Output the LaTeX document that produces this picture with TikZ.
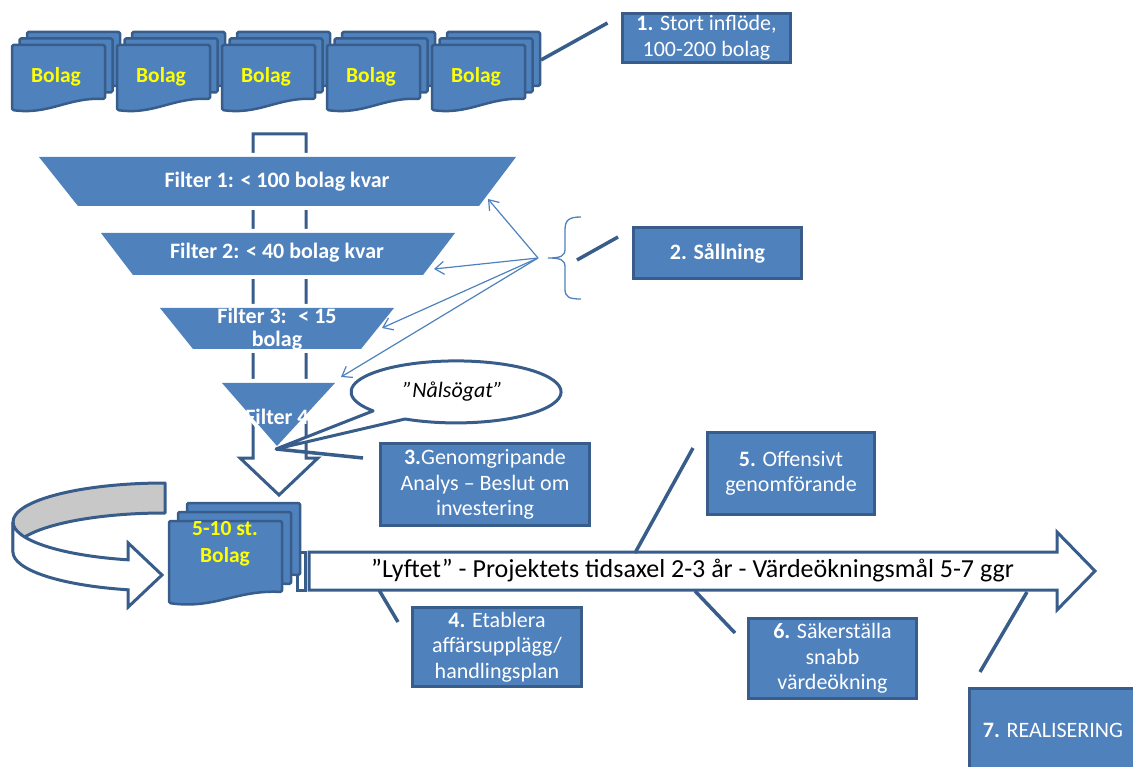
\documentclass[tikz,border=0pt]{standalone}
\usepackage{fontspec}
\setmainfont{Carlito}
\usetikzlibrary{arrows.meta}
\definecolor{bfill}{HTML}{4F81BD}
\definecolor{bdark}{HTML}{385D8A}
\definecolor{ylw}{HTML}{FFFF00}
\definecolor{gband}{HTML}{C8C8C8}
\definecolor{lblue}{HTML}{4F81BD}
\newcommand\mydoc[5]{%
  \draw[docst] ({#1},{#2}) -- ({#1+#3},{#2}) -- ({#1+#3},{#2+#5})
    .. controls ({#1+0.6*#3},{#2+#5-0.03*#4}) and ({#1+0.4*#3},{#2+1.08*#4}) .. ({#1},{#2+#4}) -- cycle;}
\tikzset{
  docst/.style={draw=bdark, fill=bfill, line width=2.5pt, rounded corners=1.5pt, line join=round},
  box/.style={draw=bdark, fill=bfill, line width=3pt, text=white, align=center, inner sep=0pt,
    font=\fontsize{22}{25.5}\selectfont},
  bolagtxt/.style={text=ylw, font=\fontsize{21.5}{27}\selectfont\bfseries, align=center, inner sep=0pt},
  filtertxt/.style={text=white, font=\fontsize{22}{23}\selectfont\bfseries, align=center, inner sep=0pt},
  filt/.style={preaction={draw=white, line width=8pt, line join=round}, fill=bfill},
  hollow/.style={draw=bdark, fill=white, line width=3pt, line join=miter},
  conn/.style={draw=bdark, line width=3.5pt},
  sarrow/.style={draw=lblue, line width=1.2pt, -{Straight Barb[length=9pt,width=13pt]}},
}
\begin{document}
\begin{tikzpicture}[x=1pt,y=-1pt]
\useasboundingbox (0,0) rectangle (1133,767);
\clip (0,0) rectangle (1133,767);

% ---- top stacks of documents
\foreach \k in {0,...,4} {
  \pgfmathsetmacro\xx{12+105*\k}
  \mydoc{\xx+15}{32}{93}{65}{54}
  \mydoc{\xx+7.5}{38.5}{93}{65}{54}
  \mydoc{\xx}{45}{93}{65}{54}
  \node[bolagtxt] (bolag\k) at (\xx+44,77) {Bolag};
}

% ---- box 1
\node[box, minimum width=168pt, minimum height=49pt] (b1) at (706.5,38)
  {\textbf{1.} Stort inflöde,\\100-200 bolag};
\coordinate (c1a) at (541,60);
\coordinate (c1b) at (607.5,23);
\draw[conn] (c1a) -- (c1b);

% ---- pipe / down block arrow
\draw[hollow] (253,134) -- (306,134) -- (306,458) -- (318,458) -- (279,495) -- (240,458) -- (253,458) -- cycle;

% ---- filters
\path[filt] (39,157) -- (516,157) -- (479,206) -- (78,206) -- cycle;
\path[filt] (101,233) -- (455,233) -- (423,275) -- (133,275) -- cycle;
\path[filt] (160,308) -- (394,308) -- (361,349) -- (193,349) -- cycle;
\path[filt] (222,383) -- (335,383) -- (277,446) -- cycle;
\node[filtertxt] (f1) at (277,182) {Filter 1: < 100 bolag kvar};
\node[filtertxt] (f2) at (277,253) {Filter 2: < 40 bolag kvar};
\node[filtertxt] (f3) at (277,329) {Filter 3: \ < 15\\bolag};
\node[filtertxt] (f4) at (277,417) {Filter 4};
\coordinate (f1p) at (488,199);
\coordinate (f2p) at (434,269);
\coordinate (f3p) at (382,328);
\coordinate (f4p) at (341,377);

% ---- speech bubble
\coordinate (btip) at (276,449);
\draw[draw=bdark, fill=white, line width=3pt, line join=round]
  (405,419) arc[start angle=240.9, end angle=577.8, x radius=105pt, y radius=31pt] -- (btip) -- cycle;
\node[font=\fontsize{22}{24}\selectfont\itshape] (nal) at (453,392) {”Nålsögat”};

% ---- box 3
\node[box, minimum width=209pt, minimum height=82pt] (b3) at (485,484.5)
  {\textbf{3.}Genomgripande\\Analys – Beslut om\\investering};
\coordinate (c3b) at (363,458);
\draw[conn] (btip) -- (c3b);

% ---- brace and arrows
\draw[lblue, line width=1.3pt] (581,217) .. controls (569,217) and (565,220) .. (565,230) -- (565,249)
  .. controls (565,256) and (561,258) .. (548,258) .. controls (561,258) and (565,260) .. (565,267)
  -- (565,289) .. controls (565,297) and (569,299) .. (581,299);
\coordinate (bsrc) at (538,258);
\draw[sarrow] (bsrc) -- (f1p);
\draw[sarrow] (bsrc) -- (f2p);
\draw[sarrow] (bsrc) -- (f3p);
\draw[sarrow] (bsrc) -- (f4p);

% ---- box 2
\node[box, minimum width=168pt, minimum height=51pt, font=\fontsize{22}{25.5}\selectfont\bfseries] (b2) at (717.5,253)
  {2. Sållning};
\coordinate (c2a) at (577,260);
\coordinate (c2b) at (618,237);
\draw[conn] (c2a) -- (c2b);

% ---- circular arrow
\draw[draw=bdark, fill=gband, line width=3pt, line join=round]
  (165,483) arc[start angle=90, end angle=180, x radius=152pt, y radius=39pt]
  -- (13,552) arc[start angle=180, end angle=90, x radius=152pt, y radius=39pt] -- cycle;
\draw[draw=bdark, fill=white, line width=3pt, line join=miter]
  (13,522) arc[start angle=180, end angle=256, x radius=152pt, y radius=39pt]
  -- (128.2,543) -- (162,575) -- (128.2,607) -- (128.2,589.8)
  arc[start angle=256, end angle=180, x radius=152pt, y radius=39pt] -- cycle;

% ---- Lyftet arrow
\draw[hollow] (297,552) rectangle (305,590);
\draw[hollow] (309,552) -- (1057,552) -- (1057,532) -- (1095,571) -- (1057,610) -- (1057,590) -- (309,590) -- cycle;
\node[font=\fontsize{26}{28}\selectfont, inner sep=0pt] (lyft) at (692.5,571)
  {”Lyftet” - Projektets tidsaxel 2-3 år - Värdeökningsmål 5-7 ggr};

% ---- 5-10 documents
\mydoc{187}{503}{113}{82}{72}
\mydoc{178}{512}{113}{82}{72}
\mydoc{169}{521}{113}{82}{71}
\node[bolagtxt] (bolagB) at (225,543.5) {5-10 st.\\Bolag};

% ---- box 4
\node[box, minimum width=169pt, minimum height=79pt] (b4) at (497,647)
  {\textbf{4.} Etablera\\affärsupplägg/\\handlingsplan};
\coordinate (c4a) at (379,590);
\coordinate (c4b) at (398,622);
\draw[conn] (c4a) -- (c4b);

% ---- box 5
\node[box, minimum width=167pt, minimum height=82pt] (b5) at (791,473.5)
  {\textbf{5.} Offensivt\\genomförande};
\coordinate (c5a) at (635,553);
\coordinate (c5b) at (693,448);
\draw[conn] (c5a) -- (c5b);

% ---- box 6
\node[box, minimum width=168pt, minimum height=80pt] (b6) at (832.5,658.5)
  {\textbf{6.} Säkerställa\\snabb\\värdeökning};
\coordinate (c6a) at (695,591);
\coordinate (c6b) at (735,633);
\draw[conn] (c6a) -- (c6b);

% ---- box 7
\node[box, minimum width=168pt, minimum height=84pt] (b7) at (1053,730)
  {\textbf{7.} REALISERING};
\coordinate (c7a) at (1027,592);
\coordinate (c7b) at (980,672);
\draw[conn] (c7a) -- (c7b);
\end{tikzpicture}
\end{document}
